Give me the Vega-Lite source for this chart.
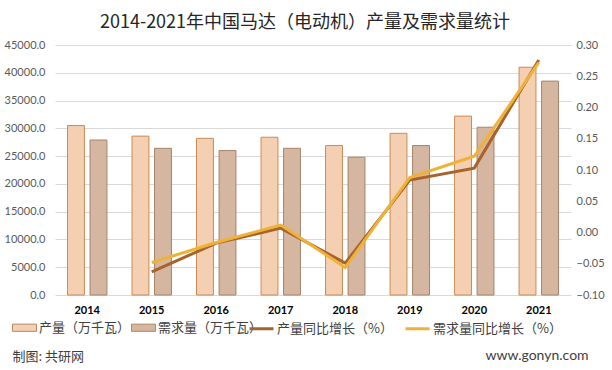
{
  "$schema": "https://vega.github.io/schema/vega-lite/v6.json",
  "width": 516,
  "height": 250,
  "autosize": {"type": "none"},
  "padding": {"left": 55, "top": 45, "right": 41, "bottom": 75},
  "background": "white",
  "title": {
    "text": "2014-2021年中国马达（电动机）产量及需求量统计",
    "anchor": "middle",
    "frame": "group",
    "fontSize": 18,
    "font": "Noto Sans CJK SC",
    "fontWeight": "normal",
    "color": "#262626",
    "offset": 7,
    "dx": -8
  },
  "config": {
    "font": "Lato",
    "view": {"stroke": null}
  },
  "datasets": {
    "bars": [
      {"year": "2014", "series": "产量（万千瓦）", "value": 30500},
      {"year": "2014", "series": "需求量（万千瓦）", "value": 27900},
      {"year": "2015", "series": "产量（万千瓦）", "value": 28600},
      {"year": "2015", "series": "需求量（万千瓦）", "value": 26400},
      {"year": "2016", "series": "产量（万千瓦）", "value": 28200},
      {"year": "2016", "series": "需求量（万千瓦）", "value": 26000},
      {"year": "2017", "series": "产量（万千瓦）", "value": 28400},
      {"year": "2017", "series": "需求量（万千瓦）", "value": 26400},
      {"year": "2018", "series": "产量（万千瓦）", "value": 26900},
      {"year": "2018", "series": "需求量（万千瓦）", "value": 24800},
      {"year": "2019", "series": "产量（万千瓦）", "value": 29100},
      {"year": "2019", "series": "需求量（万千瓦）", "value": 26900},
      {"year": "2020", "series": "产量（万千瓦）", "value": 32200},
      {"year": "2020", "series": "需求量（万千瓦）", "value": 30200},
      {"year": "2021", "series": "产量（万千瓦）", "value": 41000},
      {"year": "2021", "series": "需求量（万千瓦）", "value": 38500}
    ],
    "lines": [
      {"year": "2015", "series": "产量同比增长（%）", "value": -0.063},
      {"year": "2016", "series": "产量同比增长（%）", "value": -0.017},
      {"year": "2017", "series": "产量同比增长（%）", "value": 0.007},
      {"year": "2018", "series": "产量同比增长（%）", "value": -0.049},
      {"year": "2019", "series": "产量同比增长（%）", "value": 0.084},
      {"year": "2020", "series": "产量同比增长（%）", "value": 0.103},
      {"year": "2021", "series": "产量同比增长（%）", "value": 0.276},
      {"year": "2015", "series": "需求量同比增长（%）", "value": -0.048},
      {"year": "2016", "series": "需求量同比增长（%）", "value": -0.016},
      {"year": "2017", "series": "需求量同比增长（%）", "value": 0.012},
      {"year": "2018", "series": "需求量同比增长（%）", "value": -0.056},
      {"year": "2019", "series": "需求量同比增长（%）", "value": 0.088},
      {"year": "2020", "series": "需求量同比增长（%）", "value": 0.122},
      {"year": "2021", "series": "需求量同比增长（%）", "value": 0.272}
    ]
  },
  "encoding": {
    "x": {
      "field": "year",
      "type": "nominal",
      "scale": {"paddingInner": 0.389, "paddingOuter": 0.194},
      "axis": {
        "title": "制图: 共研网",
        "titleAnchor": "start",
        "titleAlign": "left",
        "titleX": -43,
        "titleY": 61,
        "titleBaseline": "middle",
        "titleFont": "Noto Sans CJK SC",
        "titleFontSize": 13,
        "titleFontWeight": "normal",
        "titleColor": "#404040",
        "labelAngle": 0,
        "labelFontWeight": "bold",
        "labelFontSize": 11,
        "labelColor": "#000000",
        "labelPadding": 9,
        "ticks": false,
        "domain": false
      }
    }
  },
  "layer": [
    {
      "data": {"name": "bars"},
      "mark": {"type": "bar", "strokeWidth": 1},
      "encoding": {
        "xOffset": {"field": "series", "type": "nominal", "scale": {"paddingInner": 0.25, "paddingOuter": 0}, "sort": ["产量（万千瓦）", "需求量（万千瓦）"]},
        "y": {
          "field": "value",
          "type": "quantitative",
          "scale": {"domain": [0, 45000], "nice": false},
          "axis": {
            "title": null,
            "values": [0, 5000, 10000, 15000, 20000, 25000, 30000, 35000, 40000, 45000],
            "format": ".1f",
            "labelFontSize": 11,
            "labelColor": "#595959",
            "labelPadding": 10,
            "ticks": false,
            "domain": false,
            "grid": true,
            "gridColor": "#D9D9D9"
          }
        },
        "fill": {
          "field": "series",
          "type": "nominal",
          "scale": {
            "domain": ["产量（万千瓦）", "需求量（万千瓦）"],
            "range": ["#F4CFB1", "#D5B6A0"]
          },
          "legend": {
            "title": null,
            "orient": "none",
            "direction": "horizontal",
            "legendX": -43,
            "legendY": 270,
            "labelFont": "Noto Sans CJK SC",
            "labelFontSize": 13,
            "labelColor": "#404040",
            "labelOffset": 2,
            "columnPadding": -12,
            "symbolSize": 576,
            "symbolType": "M-1,-0.3H1V0.3H-1Z",
            "symbolStrokeWidth": 1,
            "symbolStrokeColor": "#B58764"
          }
        },
        "stroke": {
          "condition": {"test": "datum.series === '产量（万千瓦）'", "value": "#C98B57"},
          "value": "#A58469"
        }
      }
    },
    {
      "data": {"name": "lines"},
      "mark": {"type": "line", "strokeWidth": 3},
      "encoding": {
        "y": {
          "field": "value",
          "type": "quantitative",
          "scale": {"domain": [-0.1, 0.3], "nice": false},
          "axis": {
            "orient": "right",
            "title": "www.gonyn.com",
            "titleAngle": 0,
            "titleAlign": "left",
            "titleBaseline": "middle",
            "titleX": -86,
            "titleY": 310,
            "titleFont": "Lato",
            "titleFontSize": 14,
            "titleFontWeight": "normal",
            "titleColor": "#404040",
            "values": [-0.1, -0.05, 0, 0.05, 0.1, 0.15, 0.2, 0.25, 0.3],
            "format": ".2f",
            "labelFontSize": 11,
            "labelColor": "#595959",
            "labelPadding": 5,
            "ticks": false,
            "domain": false,
            "grid": false
          }
        },
        "stroke": {
          "field": "series",
          "type": "nominal",
          "scale": {
            "domain": ["产量同比增长（%）", "需求量同比增长（%）"],
            "range": ["#A8622C", "#EFB237"]
          },
          "legend": {
            "title": null,
            "orient": "none",
            "direction": "horizontal",
            "legendX": 193,
            "legendY": 270,
            "labelFont": "Noto Sans CJK SC",
            "labelFontSize": 13,
            "labelColor": "#404040",
            "labelOffset": 2,
            "columnPadding": 6,
            "symbolSize": 576,
            "symbolType": "stroke",
            "symbolStrokeWidth": 3
          }
        },
        "order": {"field": "year", "type": "ordinal"}
      }
    }
  ],
  "resolve": {"scale": {"y": "independent", "stroke": "independent"}}
}
